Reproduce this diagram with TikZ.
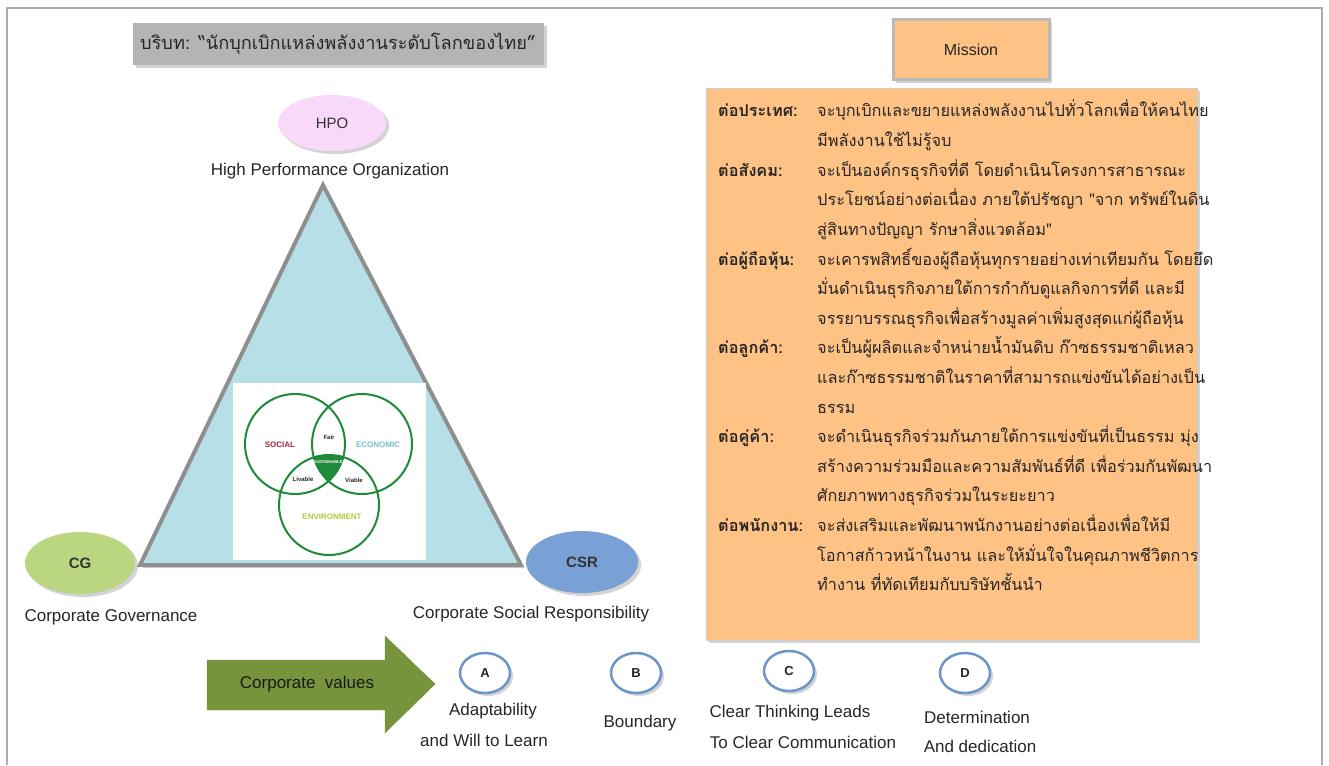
\documentclass[tikz,border=0pt]{standalone}
\usepackage{fontspec}
\setmainfont{Liberation Sans}
\newfontfamily\thaifont[Script=Thai]{Loma}
\usetikzlibrary{shapes.geometric}
\usetikzlibrary{shadows}

\definecolor{titlegray}{HTML}{B4B4B4}
\definecolor{missionorange}{HTML}{FFC285}
\definecolor{triblue}{HTML}{B7DFE8}
\definecolor{tribord}{HTML}{8F8F8F}
\definecolor{hpopink}{HTML}{F9D9F9}
\definecolor{cggreen}{HTML}{BAD680}
\definecolor{csrblue}{HTML}{7AA1D6}
\definecolor{arrowgreen}{HTML}{77933C}
\definecolor{venngreen}{HTML}{1F8A3A}
\definecolor{socialred}{HTML}{A8243C}
\definecolor{econblue}{HTML}{78BCD4}
\definecolor{envyellow}{HTML}{B5C93E}
\definecolor{ringblue}{HTML}{6C95C9}

\begin{document}
\begin{tikzpicture}[x=1pt, y=-1pt,
	softshadow/.style={drop shadow={opacity=0.35, shadow xshift=3pt, shadow yshift=-3pt}},
	lbl/.style={font=\fontsize{17}{20}\selectfont, text=black!85},
	oval/.style={ellipse, minimum width=108pt, minimum height=60pt, font=\fontsize{15}{18}\selectfont\bfseries, text=black!80, softshadow},
	ring/.style={ellipse, draw=ringblue, line width=2.5pt, fill=white, minimum width=50pt, minimum height=40pt, font=\fontsize{13}{15}\selectfont\bfseries, text=black!85, softshadow},
	venn/.style={draw=venngreen, line width=2pt},
	vennlbl/.style={font=\fontsize{8}{9}\selectfont\bfseries},
	small/.style={font=\fontsize{6}{7}\selectfont\bfseries, text=black!85}]
	\useasboundingbox (0,0) rectangle (1329,765);
	\draw[gray!65, line width=2.5] (7,765) -- (7,8) -- (1322,8) -- (1322,765);

	\node[fill=titlegray, minimum width=411pt, minimum height=42pt, softshadow, font=\thaifont\fontsize{18.2}{22}\selectfont, text=black!85] (title) at (338,44) {บริบท: “นักบุกเบิกแหล่งพลังงานระดับโลกของไทย”};
	\node[fill=missionorange, draw=gray!55, line width=3, minimum width=156pt, minimum height=60pt, softshadow, font=\fontsize{16}{19}\selectfont, text=black!85] (mission) at (971,50) {Mission};
	\node[fill=missionorange, draw=gray!40, minimum width=491pt, minimum height=552pt, softshadow] (missionbox) at (951.5,364) {};
	\node[anchor=base west, inner sep=0, font=\thaifont\fontsize{16.3}{29.6}\selectfont, text=black!85] (missiontext) at (718,117) {%
		\begin{tabular}[t]{@{}p{99pt}@{}l@{}}
			\textbf{ต่อประเทศ:} & จะบุกเบิกและขยายแหล่งพลังงานไปทั่วโลกเพื่อให้คนไทย\\
			& มีพลังงานใช้ไม่รู้จบ\\
			\textbf{ต่อสังคม:} & จะเป็นองค์กรธุรกิจที่ดี โดยดำเนินโครงการสาธารณะ\\
			& ประโยชน์อย่างต่อเนื่อง ภายใต้ปรัชญา "จาก ทรัพย์ในดิน\\
			& สู่สินทางปัญญา รักษาสิ่งแวดล้อม"\\
			\textbf{ต่อผู้ถือหุ้น:} & จะเคารพสิทธิ์ของผู้ถือหุ้นทุกรายอย่างเท่าเทียมกัน โดยยึด\\
			& มั่นดำเนินธุรกิจภายใต้การกำกับดูแลกิจการที่ดี และมี\\
			& จรรยาบรรณธุรกิจเพื่อสร้างมูลค่าเพิ่มสูงสุดแก่ผู้ถือหุ้น\\
			\textbf{ต่อลูกค้า:} & จะเป็นผู้ผลิตและจำหน่ายน้ำมันดิบ ก๊าซธรรมชาติเหลว\\
			& และก๊าซธรรมชาติในราคาที่สามารถแข่งขันได้อย่างเป็น\\
			& ธรรม\\
			\textbf{ต่อคู่ค้า:} & จะดำเนินธุรกิจร่วมกันภายใต้การแข่งขันที่เป็นธรรม มุ่ง\\
			& สร้างความร่วมมือและความสัมพันธ์ที่ดี เพื่อร่วมกันพัฒนา\\
			& ศักยภาพทางธุรกิจร่วมในระยะยาว\\
			\textbf{ต่อพนักงาน:} & จะส่งเสริมและพัฒนาพนักงานอย่างต่อเนื่องเพื่อให้มี\\
			& โอกาสก้าวหน้าในงาน และให้มั่นใจในคุณภาพชีวิตการ\\
			& ทำงาน ที่ทัดเทียมกับบริษัทชั้นนำ
		\end{tabular}};

	\filldraw[fill=triblue, draw=tribord, line width=4, softshadow] (323,185) -- (521,565) -- (140,565) -- cycle;
	\fill[white] (233,383) rectangle (426,560);
	\begin{scope}
		\clip (295,444) circle (50);
		\clip (362,444) circle (50);
		\fill[venngreen] (329,505) circle (50);
	\end{scope}
	\draw[venn] (295,444) circle (50);
	\draw[venn] (362,444) circle (50);
	\draw[venn] (329,505) circle (50);
	\node[vennlbl, text=socialred] (social) at (280,445) {SOCIAL};
	\node[vennlbl, text=econblue] (economic) at (378,445) {ECONOMIC};
	\node[vennlbl, text=envyellow] (environment) at (332,517) {ENVIRONMENT};
	\node[small] (fair) at (329,437) {Fair};
	\node[small] (livable) at (303,479) {Livable};
	\node[small] (viable) at (354,480) {Viable};
	\node[font=\fontsize{4.2}{5}\selectfont\bfseries, text=white] (sustainable) at (328,462) {SUSTAINABLE};

	\node[oval, fill=hpopink, minimum height=56pt, font=\fontsize{15}{18}\selectfont] (hpo) at (332,123) {HPO};
	\node[lbl] (hpolbl) at (330,171) {High Performance Organization};
	\node[oval, fill=cggreen, minimum width=110pt, minimum height=62pt] (cg) at (80,563) {CG};
	\node[lbl] (cglbl) at (111,617) {Corporate Governance};
	\node[oval, fill=csrblue, minimum width=112pt, minimum height=62pt] (csr) at (582,562) {CSR};
	\node[lbl] (csrlbl) at (531,614) {Corporate Social Responsibility};

	\filldraw[fill=arrowgreen, draw=arrowgreen] (207,660) -- (385,660) -- (385,636) -- (435,684) -- (385,733) -- (385,710) -- (207,710) -- cycle;
	\node[lbl, text=black!90] (values) at (307,684) {Corporate\ \ values};
	\node[ring] (valA) at (485,673) {A};
	\node[lbl] (valAlbl) at (493,711) {Adaptability};
	\node[lbl] (valAlbl2) at (484,740) {and Will to Learn};
	\node[ring] (valB) at (636,673) {B};
	\node[lbl] (valBlbl) at (640,723) {Boundary};
	\node[ring] (valC) at (789,671) {C};
	\node[lbl] (valClbl) at (790,713) {Clear Thinking Leads};
	\node[lbl] (valClbl2) at (803,742) {To Clear Communication};
	\node[ring] (valD) at (965,673) {D};
	\node[lbl] (valDlbl) at (977,717) {Determination};
	\node[lbl] (valDlbl2) at (980,746) {And dedication};
\end{tikzpicture}
\end{document}
